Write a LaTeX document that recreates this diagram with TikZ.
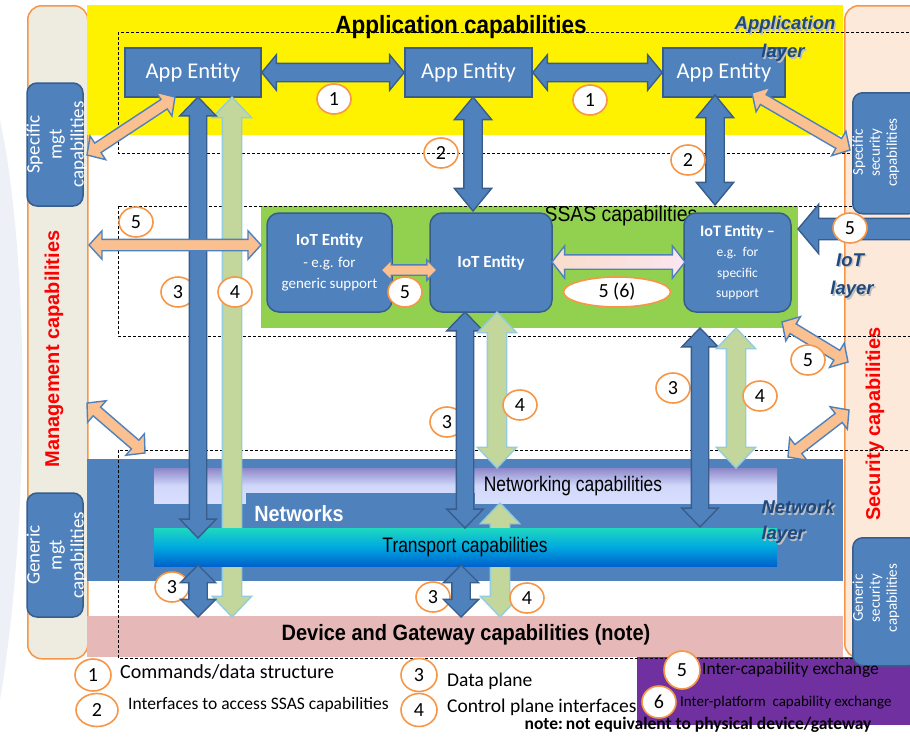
\documentclass[tikz,border=0pt]{standalone}
\usepackage{fontspec}
\setmainfont{Carlito}
\newfontfamily\arialf{Liberation Sans}
\newfontfamily\arialn[FakeStretch=0.9]{Liberation Sans}
\newfontfamily\arialnn[FakeStretch=0.83]{Liberation Sans}
\usetikzlibrary{shapes.arrows,shapes.geometric,calc}
\definecolor{entblue}{HTML}{4F81BD}
\definecolor{entborder}{HTML}{385D8A}
\definecolor{ssasgreen}{HTML}{92D050}
\definecolor{mgtfill}{HTML}{EEECE1}
\definecolor{secfill}{HTML}{FDE9D9}
\definecolor{orangeb}{HTML}{F79646}
\definecolor{devpink}{HTML}{E6B9B8}
\definecolor{legpurple}{HTML}{7030A0}
\definecolor{arrorange}{HTML}{FAC090}
\definecolor{arrgreen}{HTML}{C3D69B}
\definecolor{arrgreenb}{HTML}{93CDDD}
\definecolor{layerblue}{HTML}{1F497D}
\definecolor{nettop}{HTML}{8C87C8}
\definecolor{netbot}{HTML}{D8E0FF}
\definecolor{trtop}{HTML}{1ED8C0}
\definecolor{trmid}{HTML}{00A8E0}
\definecolor{trbot}{HTML}{0062CC}
\definecolor{capred}{HTML}{FF0000}
\definecolor{swooshc}{HTML}{EDF1F7}
\definecolor{gradA}{HTML}{F9DCCB}
\definecolor{gradB}{HTML}{F6B36C}
\definecolor{gradC}{HTML}{FBE6F0}

\newcommand\blockarrow[3]{%
  \path let \p1=(#2), \p2=(#3),
    \n1={atan2(\y2-\y1,\x2-\x1)},
    \n2={veclen(\x2-\x1,\y2-\y1)} in
    node[#1, minimum height=\n2, rotate=\n1] at ($(\p1)!0.5!(\p2)$) {};}

\tikzset{
  band/.style={inner sep=0pt, outer sep=0pt, draw=none, anchor=north west},
  appent/.style={draw=entborder, line width=1.5pt, fill=entblue, text=white, inner sep=0pt,
    font=\fontsize{22.5}{26}\selectfont},
  iotent/.style={appent, rounded corners=12pt, align=center, font=\fontsize{15}{21}\selectfont},
  subbox/.style={draw=entborder, line width=1.5pt, fill=entblue, rounded corners=10pt, inner sep=0pt},
  subtext/.style={text=white, align=center, rotate=90, inner sep=0pt},
  column/.style={draw=orangeb, line width=1.5pt, rounded corners=14pt, inner sep=0pt, anchor=north west},
  arrbase/.style={double arrow, inner xsep=0pt, outer sep=0pt, line width=1.4pt},
  bluearr/.style={arrbase, draw=entborder, fill=entblue, inner ysep=8pt,
    double arrow head extend=9.5pt, double arrow tip angle=88},
  arrone/.style={arrbase, draw=entborder, fill=entblue, inner ysep=8.5pt,
    double arrow head extend=8.5pt, double arrow tip angle=101},
  arrtwo/.style={arrbase, draw=entborder, fill=entblue, inner ysep=8.5pt,
    double arrow head extend=9.5pt, double arrow tip angle=79},
  bigblue/.style={arrbase, draw=entborder, fill=entblue, inner ysep=10pt,
    double arrow head extend=14pt, double arrow tip angle=100},
  shortblue/.style={arrbase, draw=entborder, fill=entblue, inner ysep=8.5pt,
    double arrow head extend=8.5pt, double arrow tip angle=90},
  greenarr/.style={arrbase, draw=arrgreenb, fill=arrgreen, inner ysep=9pt,
    double arrow head extend=10pt, double arrow tip angle=87},
  orarr/.style={arrbase, draw=entblue, fill=arrorange, inner ysep=5pt,
    double arrow head extend=8.5pt, double arrow tip angle=95},
  smallor/.style={arrbase, draw=entblue, fill=arrorange, inner ysep=4.5pt,
    double arrow head extend=5pt, double arrow tip angle=90},
  gradarr/.style={arrbase, draw=entblue, left color=gradA, middle color=gradB, right color=gradC,
    inner ysep=6.5pt, double arrow head extend=9pt, double arrow tip angle=104},
  lab/.style={ellipse, draw=orangeb, line width=1.6pt, fill=white, inner sep=0pt,
    minimum width=34, minimum height=30, font=\fontsize{20}{20}\selectfont},
  layert/.style={font=\arialf\bfseries\itshape\fontsize{18.5}{21}\selectfont, text=layerblue},
  layers/.style={layert, text=black!25},
  legt/.style={anchor=west, inner sep=0pt},
  frame/.style={dash pattern=on 3pt off 2pt, line width=0.8pt}
}

\begin{document}
\begin{tikzpicture}[x=1pt, y=-1pt]
\useasboundingbox (0,0) rectangle (910,737);
\fill[white] (0,0) rectangle (910,737);
% faint background swoosh
\fill[swooshc] (0,120) .. controls (30,260) and (30,520) .. (0,700) -- cycle;

% side columns
\node[column, fill=mgtfill, minimum width=60, minimum height=653] (mgt) at (27,5) {};
\node[column, fill=secfill, minimum width=90, minimum height=652] (sec) at (844,5) {};

% bands
\node[band, fill=yellow, minimum width=756, minimum height=130] (appband) at (87,5) {};
\node[band, fill=ssasgreen, minimum width=537, minimum height=122] (ssas) at (261,206) {};
\node[band, fill=entblue, minimum width=756, minimum height=122] (netband) at (87,459) {};
\node[band, fill=devpink, minimum width=756, minimum height=41] (devband) at (87,616) {};
\node[band, fill=legpurple, minimum width=290, minimum height=68] (legbox) at (637,657) {};

% networking bar
\node[band, top color=nettop, bottom color=netbot, middle color=netbot!90!nettop,
      minimum width=623, minimum height=35] (netbar) at (154,468) {};
\node[band, fill=entblue, minimum width=229, minimum height=11] (nettab) at (246,493) {};

% sub boxes of the management column
\node[subbox, minimum width=56, minimum height=123] (smgt) at (55,144.5) {};
\node[subtext, font=\fontsize{19}{22}\selectfont] (smgtt) at (56.5,144.5) {Specific\\mgt\\capabilities};
\node[subbox, minimum width=56, minimum height=124] (gmgt) at (55,555) {};
\node[subtext, font=\fontsize{19}{22}\selectfont] (gmgtt) at (56.5,555) {Generic\\mgt\\capabilities};

% titles
\node[font=\arialn\bfseries\fontsize{25}{28}\selectfont] (apptitle) at (461,27) {Application capabilities};
\node[font=\arialn\fontsize{21.5}{24}\selectfont] (ssast) at (621,216) {SSAS capabilities};
\node[font=\arialnn\fontsize{21}{24}\selectfont] (netcapt) at (573,486) {Networking capabilities};
\node[font=\arialn\bfseries\fontsize{22}{25}\selectfont, text=white] (netst) at (299,514) {Networks};
\node[font=\arialn\bfseries\fontsize{22.2}{25}\selectfont] (devt) at (466,635) {Device and Gateway capabilities (note)};
\node[rotate=90, text=capred, font=\arialf\bfseries\fontsize{20}{22}\selectfont] (mgtt) at (54,349) {Management capabilities};
\node[rotate=90, text=capred, font=\arialf\bfseries\fontsize{20}{22}\selectfont] (sect) at (875,424) {Security capabilities};

% dashed layer frames
\draw[frame] (118,32) rectangle (940,153);
\draw[frame] (118,206) rectangle (940,336);
\draw[frame] (118,450) rectangle (940,658);

% circle "2" (transparent, the frame runs through it)
\node[lab, fill=none] (l2a) at (441,153) {2};

% entities
\node[appent, minimum width=136, minimum height=49] (app1) at (193,72.5) {App Entity};
\node[appent, minimum width=127, minimum height=49] (app2) at (468.5,72.5) {App Entity};
\node[appent, minimum width=122, minimum height=49] (app3) at (724,72.5) {App Entity};
\node[iotent, minimum width=125, minimum height=99] (iot1) at (329.5,262.5)
  {{\bfseries\fontsize{17}{20}\selectfont IoT Entity}\\[1pt]- e.g. for\\generic support};
\node[iotent, minimum width=122, minimum height=99] (iot2) at (491,262.5)
  {\bfseries\fontsize{17}{20}\selectfont IoT Entity};
\node[iotent, minimum width=107, minimum height=99, font=\fontsize{13.5}{20.5}\selectfont] (iot3) at (737.5,262.5)
  {{\bfseries\fontsize{16}{20}\selectfont IoT Entity --}\\e.g.\ \ for\\specific\\support};

% arrow end points
\coordinate (g4t) at (232,97);   \coordinate (g4b) at (232,617);
\coordinate (mb4t) at (500,503); \coordinate (mb4b) at (500,617);

% green arrows under the transport bar
\blockarrow{greenarr}{g4t}{g4b}
\blockarrow{greenarr}{mb4t}{mb4b}

% transport bar
\node[band, top color=trtop, bottom color=trbot, middle color=trmid,
      minimum width=623, minimum height=38] (trbar) at (154,528) {};
\node[font=\arialnn\fontsize{21}{24}\selectfont] (trt) at (465,547) {Transport capabilities};

% "3" labels (behind blue arrows)
\node[lab] (l3a) at (178,292) {3};
\node[lab] (l3b) at (447,422) {3};
\node[lab] (l3c) at (673,388) {3};
\node[lab] (l3d) at (172,587) {3};
\node[lab] (l3e) at (433,597) {3};

% coordinates for the other arrows
\coordinate (b3t) at (198,97);   \coordinate (b3b) at (198,538);
\coordinate (bl3t) at (198,565); \coordinate (bl3b) at (198,617);
\coordinate (m3t) at (465,312);  \coordinate (m3b) at (465,528);
\coordinate (m4t) at (497,312);  \coordinate (m4b) at (497,468);
\coordinate (mb3t) at (461,565); \coordinate (mb3b) at (461,617);
\coordinate (r3t) at (700,328);  \coordinate (r3b) at (700,527);
\coordinate (r4t) at (736,328);  \coordinate (r4b) at (736,468);
\coordinate (a2lt) at (473,97);  \coordinate (a2lb) at (473,211);
\coordinate (a2rt) at (715,95);  \coordinate (a2rb) at (715,205);
\coordinate (o1a) at (175,97);   \coordinate (o1b) at (87,155);
\coordinate (o2a) at (752,93);   \coordinate (o2b) at (850,150);
\coordinate (o3a) at (89,245);   \coordinate (o3b) at (261,245);
\coordinate (o4a) at (381,270);  \coordinate (o4b) at (437,270);
\coordinate (o5a) at (782,322);  \coordinate (o5b) at (848,362);
\coordinate (o6a) at (87,403);   \coordinate (o6b) at (145,453);
\coordinate (o7a) at (788,457);  \coordinate (o7b) at (849,410);
\coordinate (g56a) at (552,262); \coordinate (g56b) at (685,262);
\coordinate (b5a) at (798,229);  \coordinate (b5b) at (940,229);

% blue data-plane arrows
\blockarrow{bluearr}{b3t}{b3b}
\blockarrow{shortblue}{bl3t}{bl3b}
\blockarrow{bluearr}{m3t}{m3b}
\blockarrow{shortblue}{mb3t}{mb3b}
\blockarrow{bluearr}{r3t}{r3b}
% green control-plane arrows
\blockarrow{greenarr}{m4t}{m4b}
\blockarrow{greenarr}{r4t}{r4b}
% application level arrows
\blockarrow{arrone}{app1.east}{app2.west}
\blockarrow{arrone}{app2.east}{app3.west}
\blockarrow{arrtwo}{a2lt}{a2lb}
\blockarrow{arrtwo}{a2rt}{a2rb}
% inter-capability arrows
\blockarrow{orarr}{o1a}{o1b}
\blockarrow{orarr}{o2a}{o2b}
\blockarrow{orarr}{o3a}{o3b}
\blockarrow{smallor}{o4a}{o4b}
\blockarrow{orarr}{o5a}{o5b}
\blockarrow{orarr}{o6a}{o6b}
\blockarrow{orarr}{o7a}{o7b}
\blockarrow{gradarr}{g56a}{g56b}
\blockarrow{bigblue}{b5a}{b5b}

% security sub boxes
\node[subbox, minimum width=66, minimum height=121, anchor=north west] (ssec) at (852,92) {};
\node[subtext, font=\fontsize{15}{17}\selectfont] (ssect) at (876,152.5) {Specific\\security\\capabilities};
\node[subbox, minimum width=66, minimum height=128, anchor=north west] (gsec) at (852,537) {};
\node[subtext, font=\fontsize{15}{17}\selectfont] (gsect) at (876,598) {Generic\\security\\capabilities};

% layer labels (with soft shadow)
\node[layers] (applayA) at (786.5,26.5) {Application};
\node[layert] (applayAt) at (785,25) {Application};
\node[layers] (applayB) at (784.5,54.5) {layer};
\node[layert] (applayBt) at (783,53) {layer};
\node[layers] (iotlayA) at (851.5,261.5) {IoT};
\node[layert] (iotlayAt) at (850,260) {IoT};
\node[layers] (iotlayB) at (853.5,291.5) {layer};
\node[layert] (iotlayBt) at (852,290) {layer};
\node[layers, anchor=west] (netlayA) at (759.5,508.5) {Network};
\node[layert, anchor=west] (netlayAt) at (758,507) {Network};
\node[layers, anchor=west] (netlayB) at (759.5,536.5) {layer};
\node[layert, anchor=west] (netlayBt) at (758,535) {layer};

% number labels
\node[lab] (l1a) at (334,99) {1};
\node[lab] (l1b) at (590,100) {1};
\node[lab] (l2b) at (688,160) {2};
\node[lab] (l5a) at (136,222) {5};
\node[lab] (l4a) at (235,292) {4};
\node[lab] (l5b) at (405,292) {5};
\node[lab, minimum width=107, minimum height=30] (l56) at (617,292) {5 (6)};
\node[lab] (l5c) at (850,228) {5};
\node[lab] (l5d) at (808,360) {5};
\node[lab] (l4b) at (520,405) {4};
\node[lab] (l4c) at (760,396) {4};
\node[lab] (l4d) at (527,598) {4};

% legend
\node[lab, minimum width=36, minimum height=32] (lg1) at (93,675) {1};
\node[lab, minimum width=42, minimum height=33] (lg2) at (97,710) {2};
\node[lab, minimum width=36, minimum height=33] (lg3) at (419,675) {3};
\node[lab, minimum width=36, minimum height=33] (lg4) at (419,710) {4};
\node[lab, minimum width=36, minimum height=38] (lg5) at (682,670) {5};
\node[lab, minimum width=34, minimum height=32] (lg6) at (659,702) {6};
\node[legt, font=\fontsize{20}{22}\selectfont] (lt1) at (120,672) {Commands/data structure};
\node[legt, font=\fontsize{17.5}{20}\selectfont] (lt2) at (128,705) {Interfaces to access SSAS capabilities};
\node[legt, font=\fontsize{19.5}{22}\selectfont] (lt3) at (447,681) {Data plane};
\node[legt, font=\fontsize{19.5}{22}\selectfont] (lt4) at (447,707) {Control plane interfaces};
\node[legt, font=\fontsize{17.4}{20}\selectfont] (lt5) at (702,670) {Inter-capability exchange};
\node[legt, font=\fontsize{15}{18}\selectfont] (lt6) at (680,703) {Inter-platform\ \ capability exchange};
\node[font=\bfseries\fontsize{17.5}{20}\selectfont] (note) at (698,725) {note:\,not equivalent to physical device/gateway};
\end{tikzpicture}
\end{document}
